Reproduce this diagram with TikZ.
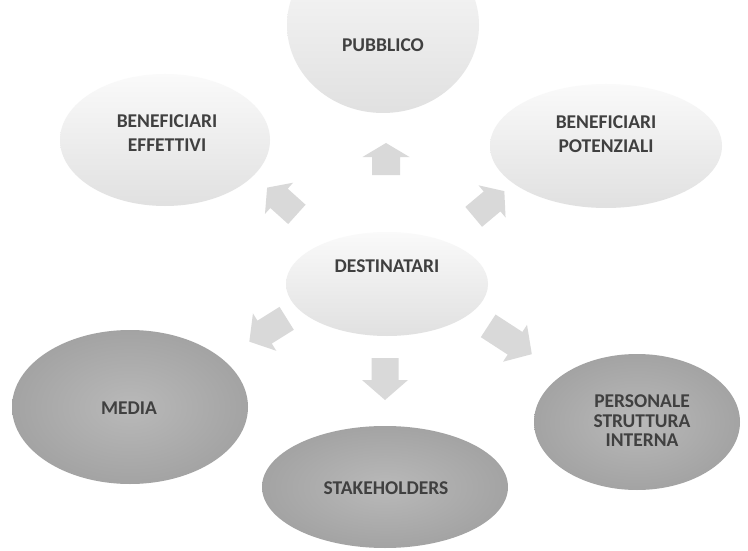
\documentclass[tikz,border=0pt]{standalone}
\usepackage{fontspec}
\setmainfont{Carlito}
\usetikzlibrary{shapes.geometric}
\begin{document}
\begin{tikzpicture}[x=1pt,y=-1pt,
  lightblob/.style={ellipse, inner sep=0pt, top color=gray!4, bottom color=gray!24, draw=none},
  darkblob/.style={ellipse, inner sep=0pt, inner color=gray!55, outer color=gray!72, draw=none},
  lbl/.style={font=\fontsize{19.5}{24}\selectfont\bfseries, text=black!75, align=center, inner sep=0pt},
  lbltight/.style={lbl, font=\fontsize{19.5}{19.5}\selectfont\bfseries},
  arrowfill/.style={fill=gray!30},
  pics/barrow/.style n args={4}{code={
    \fill[arrowfill] (-#1/2,-#3/2) -- (#1/2-#4,-#3/2) -- (#1/2-#4,-#2/2) -- (#1/2,0)
      -- (#1/2-#4,#2/2) -- (#1/2-#4,#3/2) -- (-#1/2,#3/2) -- cycle;
  }}]
\useasboundingbox (0,0) rectangle (748,551);
\fill[white] (0,0) rectangle (748,551);
\begin{scope}
  \clip (0,0) rectangle (748,551);
  \node[lightblob, minimum width=192pt, minimum height=176pt] (pub) at (383,25) {};
\end{scope}
% light blobs
\node[lightblob, minimum width=210pt, minimum height=132pt] (eff) at (165,140) {};
\node[lightblob, minimum width=232pt, minimum height=124pt] (pot) at (606,146) {};
\node[lightblob, minimum width=202pt, minimum height=104pt] (dest) at (387,284) {};
% dark blobs
\node[darkblob, minimum width=236pt, minimum height=154pt] (media) at (130,407) {};
\node[darkblob, minimum width=246pt, minimum height=122pt] (stake) at (385,487) {};
\node[darkblob, minimum width=206pt, minimum height=136pt] (pers) at (637,422) {};
% block arrows
\pic[rotate=90] (aup) at (386,159) {barrow={32}{47}{28}{14}};
\pic[rotate=-90] (adown) at (385,379) {barrow={42}{46}{27}{20}};
\pic[rotate=138] (aul) at (282,201) {barrow={40}{42}{26}{16}};
\pic[rotate=40] (aur) at (489,204) {barrow={40}{42}{26}{16}};
\pic[rotate=212] (all) at (268,330) {barrow={44}{44}{27}{18}};
\pic[rotate=-33] (alr) at (510,340) {barrow={52}{44}{27}{20}};
% labels
\node[lbl] (tpub) at (383,45) {PUBBLICO};
\node[lbl] (teff) at (167,133) {BENEFICIARI\\EFFETTIVI};
\node[lbl] (tpot) at (606,134) {BENEFICIARI\\POTENZIALI};
\node[lbl] (tdest) at (387,266) {DESTINATARI};
\node[lbl] (tmedia) at (129,408) {MEDIA};
\node[lbl] (tstake) at (386,488) {STAKEHOLDERS};
\node[lbltight] (tpers) at (642,421) {PERSONALE\\STRUTTURA\\INTERNA};
\end{tikzpicture}
\end{document}
